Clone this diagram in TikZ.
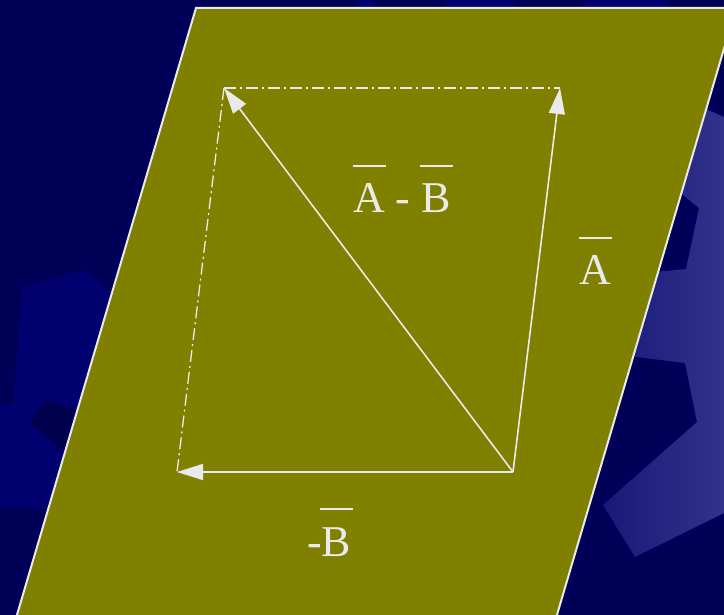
\documentclass[tikz,border=0pt]{standalone}
\usepackage{fontspec}
\setmainfont{Liberation Serif}
\usetikzlibrary{arrows.meta}
\definecolor{navybg}{RGB}{0,0,88}
\definecolor{navylt}{RGB}{0,0,110}
\definecolor{navydk}{RGB}{0,0,76}
\definecolor{olivebg}{RGB}{128,128,0}
\definecolor{ink}{RGB}{234,234,234}
\definecolor{gearL}{RGB}{24,24,120}
\definecolor{gearR}{RGB}{58,58,146}
\newcommand\ovbar[1]{\setbox0\hbox{#1}\makebox[\wd0][c]{\raisebox{46pt}{\rule{33pt}{2pt}}}\llap{\box0}}
\begin{document}
\begin{tikzpicture}[x=1pt,y=-1pt,
  vec/.style={draw=ink, line width=1.6pt, -{Triangle[length=26pt,width=16pt]}},
  guide/.style={draw=ink, line width=1.3pt, dash pattern=on 12pt off 4pt on 2pt off 4pt},
  lbl/.style={text=ink, font=\fontsize{44}{48}\selectfont, inner sep=0pt, anchor=base}]
\useasboundingbox (0,0) rectangle (724,615);
\clip (0,0) rectangle (724,615);
% background
\fill[navybg] (0,0) rectangle (724,615);
\fill[navylt] (22,287) -- (85,270) -- (120,300) -- (120,510) -- (0,508) -- (0,405) -- (13,405) -- cycle;
\fill[navydk] (45,400) -- (75,410) -- (63,450) -- (30,423) -- cycle;
\fill[navylt] (355,0) -- (375,0) -- (372,8) -- (358,8) -- cycle;
\fill[navylt] (447,0) -- (513,0) -- (515,8) -- (445,8) -- cycle;
\fill[navylt] (587,0) -- (667,0) -- (672,8) -- (582,8) -- cycle;
\shade[left color=gearL, right color=gearR]
  (690,102) -- (760,133) -- (760,495) -- (724,513) -- (635,557) -- (603,505)
  -- (697,422) -- (685,363) -- (620,355) -- (620,275) -- (686,269) -- (699,208)
  -- (683,195) -- (670,190) -- (660,100) -- cycle;
% plane
\filldraw[fill=olivebg, draw=ink, line width=2pt] (196,8) -- (736,8) -- (554,625) -- (14,625) -- cycle;
% vectors
\coordinate (O) at (513,472);
\coordinate (Bt) at (177,472);
\coordinate (At) at (560,88);
\coordinate (ABt) at (224,88);
\draw[guide] (ABt) -- (At);
\draw[guide] (ABt) -- (Bt);
\draw[vec] (O) -- (Bt);
\draw[vec] (O) -- (At);
\draw[vec] (O) -- (ABt);
% labels
\node[lbl] (lAB) at (402,213) {\ovbar{A} - \ovbar{B}};
\node[lbl] (lA) at (595,285) {\ovbar{A}};
\node[lbl] (lB) at (329,556) {-\ovbar{B}};
\end{tikzpicture}
\end{document}
